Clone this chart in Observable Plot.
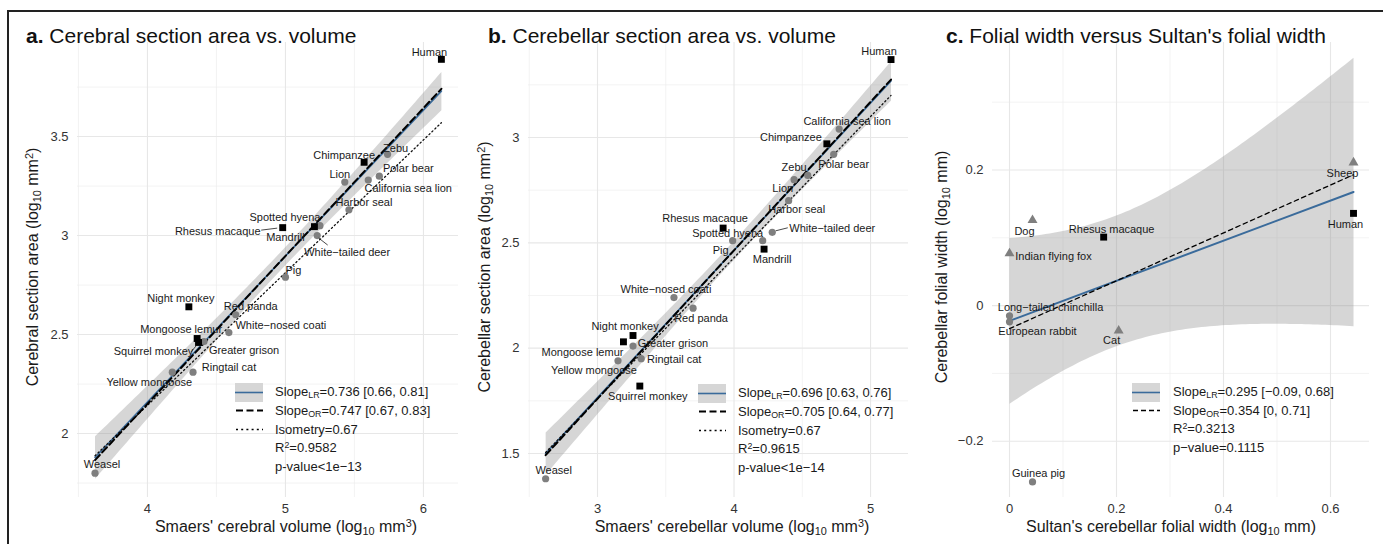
<!DOCTYPE html>
<html>
<head>
<meta charset="utf-8">
<script src="https://cdn.jsdelivr.net/npm/d3@7"></script>
<script src="https://cdn.jsdelivr.net/npm/@observablehq/plot@0.6"></script>
<style>
html,body{margin:0;padding:0;background:#fff;}
body{font-family:"Liberation Sans",Arial,Helvetica,sans-serif;color:#1a1a1a;}
#fig{position:relative;width:1386px;height:544px;overflow:hidden;background:#fff;}
.abs{position:absolute;}
.frame-top{left:7px;top:10px;width:1376px;height:1.5px;background:#222;}
.frame-left{left:7px;top:10px;width:1.5px;height:540px;background:#222;}
.title{font-size:21px;line-height:21px;white-space:nowrap;color:#111;}
.axt{font-size:16px;line-height:16px;white-space:nowrap;color:#1a1a1a;}
.ylab{transform:translate(-50%,-50%) rotate(-90deg);}
.xlab{transform:translate(-50%,-50%);}
sub{font-size:0.68em;vertical-align:-0.25em;line-height:0;}
sup{font-size:0.68em;vertical-align:0.45em;line-height:0;}
.leg{font-size:13px;line-height:18px;height:18px;white-space:nowrap;color:#1a1a1a;}
</style>
</head>
<body>
<div id="fig"></div>
<script>
// ---------------- DATA ----------------
const speciesAB = ["Human","Chimpanzee","Zebu","Polar bear","Lion","California sea lion","Harbor seal","Spotted hyena","Rhesus macaque","Mandrill","White−tailed deer","Pig","Night monkey","Red panda","White−nosed coati","Mongoose lemur","Squirrel monkey","Greater grison","Ringtail cat","Yellow mongoose","Weasel"];
const groupAB = ["primate","primate","other","other","other","other","other","other","primate","primate","other","other","primate","other","other","primate","primate","other","other","other","other"];
const cerebralVolume = [6.13,5.57,5.74,5.68,5.43,5.60,5.46,5.25,4.98,5.21,5.23,5.00,4.30,4.64,4.59,4.36,4.37,4.41,4.33,4.18,3.62];
const cerebralArea   = [3.89,3.37,3.41,3.30,3.27,3.28,3.13,3.05,3.04,3.045,3.00,2.79,2.64,2.60,2.51,2.48,2.46,2.465,2.31,2.31,1.80];
const cerebellarVolume = [5.15,4.68,4.44,4.73,4.54,4.77,4.40,4.21,3.92,4.22,4.28,3.99,3.26,3.70,3.56,3.19,3.31,3.26,3.32,3.15,2.62];
const cerebellarArea   = [3.37,2.97,2.80,2.92,2.82,3.04,2.70,2.51,2.57,2.47,2.55,2.51,2.06,2.19,2.24,2.03,1.82,2.01,1.95,1.94,1.38];

const speciesC = ["Sheep","Human","Dog","Rhesus macaque","Indian flying fox","Long−tailed chinchilla","European rabbit","Cat","Guinea pig"];
const groupC = ["sultan","primate","sultan","primate","sultan","other","other","sultan","other"];
const sultanFolialWidth = [0.643,0.643,0.043,0.176,0.0,0.0,0.0,0.204,0.043];
const cerebellarFolialWidth = [0.211,0.136,0.126,0.101,0.077,-0.015,-0.024,-0.037,-0.260];

// orthogonal-regression and isometry line end points
const orA_x = [3.62, 6.13], orA_y = [1.866, 3.741];
const isoA_x = [3.62, 6.13], isoA_y = [1.888, 3.570];
const orB_x = [2.62, 5.15], orB_y = [1.492, 3.275];
const isoB_x = [2.62, 5.15], isoB_y = [1.505, 3.200];
const orC_x = [0.0, 0.643], orC_y = [-0.034, 0.193];

// tick values
const xTicksA = [4,5,6], xMinorA = [3.5,4.5,5.5];
const yTicksA = [2,2.5,3,3.5], yMinorA = [1.75,2.25,2.75,3.25,3.75];
const xTicksB = [3,4,5], xMinorB = [2.5,3.5,4.5];
const yTicksB = [1.5,2,2.5,3], yMinorB = [1.75,2.25,2.75,3.25];
const xTicksC = [0,0.2,0.4,0.6], xMinorC = [0.1,0.3,0.5];
const yTicksC = [-0.2,0,0.2], yMinorC = [-0.1,0.1,0.3];

// legend texts
const legendA = {lr:"0.736 [0.66, 0.81]", or:"0.747 [0.67, 0.83]", iso:"0.67", r2:"0.9582", p:"p-value&lt;1e−13"};
const legendB = {lr:"0.696 [0.63, 0.76]", or:"0.705 [0.64, 0.77]", iso:"0.67", r2:"0.9615", p:"p-value&lt;1e−14"};
const legendC = {lr:"0.295 [−0.09, 0.68]", or:"0.354 [0, 0.71]", r2:"0.3213", p:"p−value=0.1115"};

// ---------------- LAYOUT (label offsets in px) ----------------
const labelOffA = {"Human":[-12,-7],"Chimpanzee":[-20,-7],"Zebu":[8,-6],"Polar bear":[29,-8],"Lion":[-5,-8],"California sea lion":[40,8],"Harbor seal":[15,-7],"Spotted hyena":[-35,-8],"Rhesus macaque":[-65,4],"Mandrill":[-29,11],"White−tailed deer":[30,17],"Pig":[8,-7],"Night monkey":[-8,-8],"Red panda":[15,-8],"White−nosed coati":[52,-7],"Mongoose lemur":[-16,-9],"Squirrel monkey":[-45,9],"Greater grison":[40,9],"Ringtail cat":[36,-5],"Yellow mongoose":[-23,10],"Weasel":[7,-9]};
const labelOffB = {"Human":[-12,-8],"California sea lion":[8,-8],"Chimpanzee":[-36,-6],"Polar bear":[10,10],"Zebu":[0,-12],"Lion":[-25,13],"Harbor seal":[8,9],"Rhesus macaque":[-18,-10],"Pig":[-12,10],"Spotted hyena":[-35,-7],"White−tailed deer":[60,-4],"Mandrill":[8,10],"White−nosed coati":[-8,-8],"Red panda":[8,10],"Night monkey":[-8,-9],"Mongoose lemur":[-41,11],"Greater grison":[40,-3],"Ringtail cat":[33,1],"Yellow mongoose":[-24,10],"Squirrel monkey":[8,10],"Weasel":[8,-8]};
const labelOffC = {"Sheep":[-11,11],"Human":[-8,11],"Dog":[-8,11],"Rhesus macaque":[8,-8],"Indian flying fox":[44,3],"Long−tailed chinchilla":[41,-8],"European rabbit":[28,10],"Cat":[-7,10],"Guinea pig":[6,-8]};
const leadersA = [["Rhesus macaque",[-5,1],[-21,3]],["White−tailed deer",[2,3],[11,10]],["Squirrel monkey",[-2,4],[-7,10]]];
const leadersB = [["White−tailed deer",[4,-1],[16,-4]]];

const BLUE = "#3a6b9b", GREY = "#7f7f7f";
const fig = document.getElementById("fig");

function add(cls, html, style){
  const d = document.createElement("div");
  d.className = "abs " + cls;
  d.innerHTML = html;
  Object.assign(d.style, style);
  fig.appendChild(d);
  return d;
}

function panel(o){
  const data = o.names.map((name,i)=>({name, group:o.groups[i], x:o.xs[i], y:o.ys[i]}));
  const line = (xs, ys) => xs.map((x,i)=>({x, y:ys[i]}));
  const fmt = d => String(d).replace("-", "−");
  const marks = [
    Plot.ruleX(o.xMinor, {stroke:"#eeeeee", strokeWidth:0.7}),
    Plot.ruleY(o.yMinor, {stroke:"#eeeeee", strokeWidth:0.7}),
    Plot.ruleX(o.xTicks, {stroke:"#e7e7e7", strokeWidth:1.1}),
    Plot.ruleY(o.yTicks, {stroke:"#e7e7e7", strokeWidth:1.1}),
    Plot.linearRegressionY(data, {x:"x", y:"y", ci:0.95, fill:"#999999", fillOpacity:0.4, stroke:BLUE, strokeWidth:o.lrWidth}),
  ];
  if (o.isoX) marks.push(Plot.line(line(o.isoX, o.isoY), {x:"x", y:"y", stroke:"#111", strokeWidth:1.3, strokeDasharray:"1.3,2.8"}));
  marks.push(Plot.line(line(o.orX, o.orY), {x:"x", y:"y", stroke:"#000", strokeWidth:o.orWidth, strokeDasharray:o.orDash}));
  marks.push(
    Plot.dot(data.filter(d=>d.group==="other"), {x:"x", y:"y", r:3.6, fill:GREY, stroke:"none"}),
    Plot.dot(data.filter(d=>d.group==="sultan"), {x:"x", y:"y", r:3.7, symbol:"triangle", fill:GREY, stroke:"none"}),
    Plot.dot(data.filter(d=>d.group==="primate"), {x:"x", y:"y", r:3.9, symbol:"square", fill:"#000", stroke:"none"})
  );
  for (const d of data) {
    const off = o.labelOff[d.name] || [0,-9];
    marks.push(Plot.text([d], {x:"x", y:"y", text:"name", dx:off[0], dy:off[1], fontSize:11, fill:"#1a1a1a"}));
  }
  const plot = Plot.plot({
    width:o.width, height:544,
    marginLeft:o.ml, marginRight:o.mr, marginTop:42, marginBottom:47,
    x:{domain:o.xDomain, ticks:o.xTicks, tickSize:0, tickPadding:6, label:null, tickFormat:fmt},
    y:{domain:o.yDomain, ticks:o.yTicks, tickSize:0, tickPadding:9, label:null, tickFormat:fmt},
    style:{fontSize:"13px", fontFamily:'"Liberation Sans", Arial, sans-serif', color:"#333", background:"none", overflow:"visible"},
    marks
  });
  plot.style.position = "absolute";
  plot.style.left = o.left + "px";
  plot.style.top = "0px";
  fig.appendChild(plot);
  // leader lines via the plot's own scales
  if (o.leaders) {
    const sx = plot.scale("x"), sy = plot.scale("y");
    const fx = sx.apply ? v=>sx.apply(v) : d3.scaleLinear(sx.domain, sx.range);
    const fy = sy.apply ? v=>sy.apply(v) : d3.scaleLinear(sy.domain, sy.range);
    const svg = d3.select(plot);
    for (const [name, a, b] of o.leaders) {
      const d = data.find(e=>e.name===name);
      const px = fx(d.x), py = fy(d.y);
      svg.append("line").attr("x1", px+a[0]).attr("y1", py+a[1]).attr("x2", px+b[0]).attr("y2", py+b[1])
        .attr("stroke", "#1a1a1a").attr("stroke-width", 0.8);
    }
  }
  return plot;
}

function legend(o){
  const rows = [];
  rows.push(["lr", `Slope<sub>LR</sub>=${o.t.lr}`]);
  rows.push(["or", `Slope<sub>OR</sub>=${o.t.or}`]);
  if (o.t.iso) rows.push(["iso", `Isometry=${o.t.iso}`]);
  rows.push([null, `R<sup>2</sup>=${o.t.r2}`]);
  rows.push([null, o.t.p]);
  rows.forEach(([sw, html], i) => {
    const cy = o.top + i*o.step;
    add("leg", html, {left:o.textLeft+"px", top:(cy-9)+"px"});
    if (sw) {
      let inner = "";
      if (sw==="lr") inner = `<rect x="0" y="0" width="28" height="19" fill="#d6d6d6"/><line x1="0" x2="28" y1="9.5" y2="9.5" stroke="${BLUE}" stroke-width="1.6"/>`;
      if (sw==="or") inner = `<line x1="1" x2="28" y1="9.5" y2="9.5" stroke="#000" stroke-width="${o.orWidth}" stroke-dasharray="${o.orDash}"/>`;
      if (sw==="iso") inner = `<line x1="1" x2="28" y1="9.5" y2="9.5" stroke="#000" stroke-width="1.6" stroke-dasharray="2,3.2"/>`;
      add("", `<svg width="28" height="19" style="display:block">${inner}</svg>`, {left:o.swLeft+"px", top:(cy-9.5)+"px"});
    }
  });
}

// frame
add("frame-top", "", {});
add("frame-left", "", {});

// Panel a
panel({names:speciesAB, groups:groupAB, xs:cerebralVolume, ys:cerebralArea, left:0, width:470, ml:77, mr:12,
  xDomain:[3.493,6.254], yDomain:[1.677,3.975], xTicks:xTicksA, xMinor:xMinorA, yTicks:yTicksA, yMinor:yMinorA,
  orX:orA_x, orY:orA_y, isoX:isoA_x, isoY:isoA_y, lrWidth:1.6, orWidth:2, orDash:"7,3.5", labelOff:labelOffA, leaders:leadersA});
// Panel b
panel({names:speciesAB, groups:groupAB, xs:cerebellarVolume, ys:cerebellarArea, left:460, width:460, ml:68, mr:12,
  xDomain:[2.4945,5.278], yDomain:[1.291,3.451], xTicks:xTicksB, xMinor:xMinorB, yTicks:yTicksB, yMinor:yMinorB,
  orX:orB_x, orY:orB_y, isoX:isoB_x, isoY:isoB_y, lrWidth:1.6, orWidth:2, orDash:"7,3.5", labelOff:labelOffB, leaders:leadersB});
// Panel c
panel({names:speciesC, groups:groupC, xs:sultanFolialWidth, ys:cerebellarFolialWidth, left:920, width:466, ml:72, mr:17,
  xDomain:[-0.0318,0.6729], yDomain:[-0.283,0.388], xTicks:xTicksC, xMinor:xMinorC, yTicks:yTicksC, yMinor:yMinorC,
  orX:orC_x, orY:orC_y, lrWidth:2, orWidth:1.3, orDash:"4.5,3.5", labelOff:labelOffC});

// titles
add("title", "<b>a.</b> Cerebral section area vs. volume", {left:"26px", top:"25px"});
add("title", "<b>b.</b> Cerebellar section area vs. volume", {left:"488px", top:"25px"});
add("title", "<b>c.</b> Folial width versus Sultan's folial width", {left:"946px", top:"25px"});

// axis titles
add("axt xlab", "Smaers' cerebral volume (log<sub>10</sub> mm<sup>3</sup>)", {left:"286px", top:"527px"});
add("axt xlab", "Smaers' cerebellar volume (log<sub>10</sub> mm<sup>3</sup>)", {left:"732px", top:"527px"});
add("axt xlab", "Sultan's cerebellar folial width (log<sub>10</sub> mm)", {left:"1171px", top:"527px"});
add("axt ylab", "Cerebral section area (log<sub>10</sub> mm<sup>2</sup>)", {left:"33px", top:"267px"});
add("axt ylab", "Cerebellar section area (log<sub>10</sub> mm<sup>2</sup>)", {left:"485px", top:"267px"});
add("axt ylab", "Cerebellar folial width (log<sub>10</sub> mm)", {left:"942px", top:"267px"});

// legends
legend({t:legendA, swLeft:235, textLeft:275, top:392, step:18.8, orWidth:2, orDash:"7,3.5"});
legend({t:legendB, swLeft:698, textLeft:738, top:393, step:18.8, orWidth:2, orDash:"7,3.5"});
legend({t:legendC, swLeft:1132, textLeft:1173, top:392, step:18.7, orWidth:1.6, orDash:"5,3"});
</script>
</body>
</html>
